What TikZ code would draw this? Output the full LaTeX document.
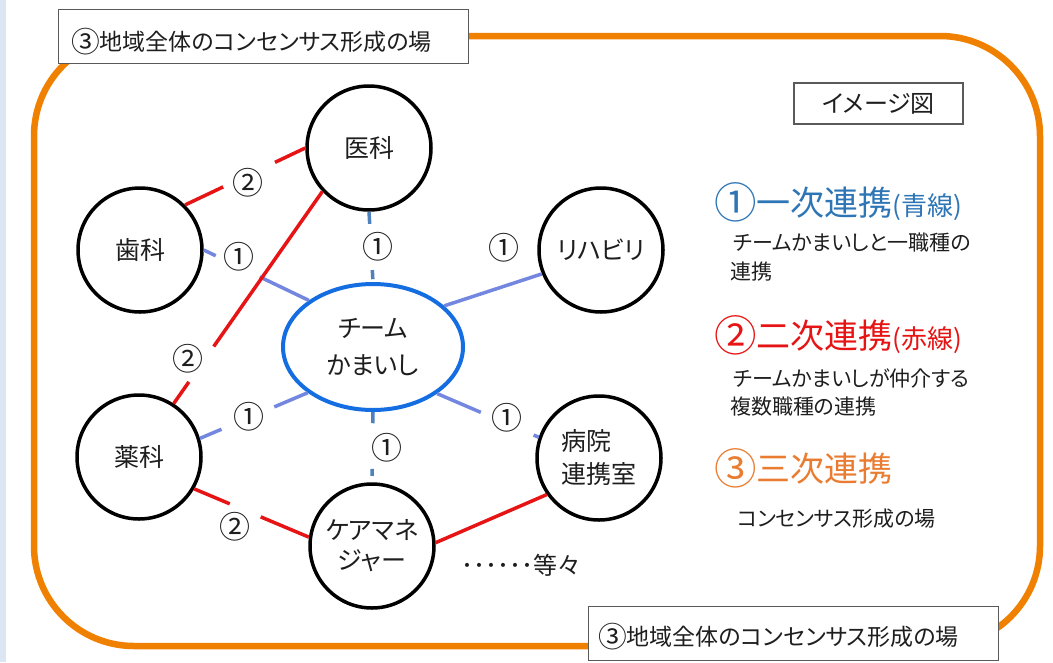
\documentclass[tikz,border=0pt]{standalone}
\usepackage{fontspec}
\setmainfont[RawFeature=+palt]{Noto Sans CJK JP}
\usetikzlibrary{shapes.geometric,calc}
\definecolor{strip}{RGB}{220,230,242}
\definecolor{orline}{RGB}{240,128,0}
\definecolor{ortext}{RGB}{233,124,48}
\definecolor{redln}{RGB}{230,20,20}
\definecolor{bluetx}{RGB}{46,117,182}
\definecolor{teamblue}{RGB}{20,110,225}
\definecolor{linkblue}{RGB}{115,135,225}
\definecolor{steelblue}{RGB}{79,129,189}
\definecolor{boxgray}{RGB}{90,90,90}
\definecolor{txt}{RGB}{30,30,30}
\newcommand\gapln[6]{%
  \draw[#1] ($(#2)!0!(#3)$) -- ($(#2)!#4!(#3)$);
  \draw[#1] ($(#2)!#5!(#3)$) -- ($(#2)!#6!(#3)$);}
\newcommand\cnum[1]{\raisebox{-0.09em}{\scalebox{1.25}{#1}}}
\begin{document}
\begin{tikzpicture}[x=1pt,y=-1pt,
  circ/.style={circle,draw=black,line width=3.5pt,fill=white,minimum size=124pt,inner sep=0pt,
    align=center,text=txt,font=\fontsize{25}{30}\selectfont},
  teamnode/.style={ellipse,draw=teamblue,line width=4pt,fill=white,minimum width=180pt,
    minimum height=126pt,inner sep=0pt,align=center,text=txt,font=\fontsize{25}{37}\selectfont},
  bline/.style={draw=linkblue,line width=3.5pt},
  sline/.style={draw=steelblue,line width=3.5pt},
  rline/.style={draw=redln,line width=3.5pt},
  lbl/.style={inner sep=0pt,text=txt,font=\fontsize{31}{31}\selectfont},
  lbox/.style={draw=boxgray,fill=white,line width=1.3pt,minimum width=410pt,minimum height=54pt,
    anchor=north west,inner sep=0pt},
  boxtext/.style={anchor=base west,inner sep=0pt,text=txt,font=\fontsize{23}{26}\selectfont},
  head/.style={anchor=base west,inner sep=0pt},
  desc/.style={anchor=base west,inner sep=0pt,text=txt,font=\fontsize{21}{24}\selectfont}]
\useasboundingbox (0,0) rectangle (1053,662);
\fill[strip] (0,0) rectangle (6,662);
\draw[orline,line width=6.5pt,rounded corners=100pt] (34,36) rectangle (1040,646);

% circles
\node[circ] (ika) at (369,148) {医科};
\node[circ] (shika) at (140,250) {歯科};
\node[circ] (reha) at (601,250) {リハビリ};
\node[circ] (yaku) at (139,457) {薬科};
\node[circ,align=left,font=\fontsize{25}{33}\selectfont] (byoin) at (599,458) {病院\\連携室};
\node[circ,font=\fontsize{25}{30}\selectfont] (care) at (372,546) {ケアマネ\\ジャー};
\node[teamnode] (team) at (373,347) {チーム\\かまいし};

% blue (first) links
\gapln{bline}{shika.0}{team.144}{0.114}{0.533}{1}
\gapln{sline}{ika.south}{team.north}{0.173}{0.83}{0.96}
\draw[bline] (reha.202) -- (team.30);
\gapln{bline}{team.215}{yaku.17}{0.31}{0.8}{1}
\gapln{bline}{team.-36}{byoin.161}{0.43}{0.95}{1}
\gapln{sline}{team.south}{care.north}{0.16}{0.81}{0.91}

% red (second) links
\gapln{rline}{shika.45}{ika.180}{0.317}{0.748}{1}
\gapln{rline}{ika.223}{yaku.57.6}{0.731}{0.898}{1}
\gapln{rline}{yaku.-30}{care.172}{0.31}{0.58}{1}
\draw[rline] (care.3) -- (byoin.215);

% link labels
\node[lbl] (l1) at (239,257) {①};
\node[lbl] (l2) at (378,247) {①};
\node[lbl] (l3) at (504,248) {①};
\node[lbl] (l4) at (249,417) {①};
\node[lbl] (l5) at (507,418) {①};
\node[lbl] (l6) at (387,448) {①};
\node[lbl] (r1) at (248,183) {②};
\node[lbl] (r2) at (188,359) {②};
\node[lbl] (r3) at (235,527) {②};
\node[inner sep=0pt,text=txt,font=\fontsize{24}{28}\selectfont] (etc) at (521,565)
  {･･････等々};

% place boxes
\node[lbox] (tlbox) at (58,9) {};
\node[boxtext] (tltext) at (71,50) {\cnum{③}地域全体のコンセンサス形成の場};
\node[lbox] (brbox) at (588,606) {};
\node[boxtext] (brtext) at (598,645) {\cnum{③}地域全体のコンセンサス形成の場};

% legend
\node[draw=boxgray,line width=1.3pt,minimum width=169pt,minimum height=41pt,inner sep=0pt,
  text=txt,font=\fontsize{24}{28}\selectfont] (img) at (878.5,103.5) {イメージ図};
\node[head,text=bluetx] (h1) at (714,215)
  {{\fontsize{34}{40}\selectfont \cnum{①}一次連携}{\fontsize{26}{28}\selectfont (青線)}};
\node[desc] (d1a) at (733,250) {チームかまいしと一職種の};
\node[desc] (d1b) at (730,279) {連携};
\node[head,text=redln] (h2) at (714,348)
  {{\fontsize{34}{40}\selectfont \cnum{②}二次連携}{\fontsize{26}{28}\selectfont (赤線)}};
\node[desc] (d2a) at (733,386) {チームかまいしが仲介する};
\node[desc] (d2b) at (730,414) {複数職種の連携};
\node[head,text=ortext,font=\fontsize{34}{40}\selectfont] (h3) at (714,481) {\cnum{③}三次連携};
\node[desc] (d3) at (737,526) {コンセンサス形成の場};
\end{tikzpicture}
\end{document}
